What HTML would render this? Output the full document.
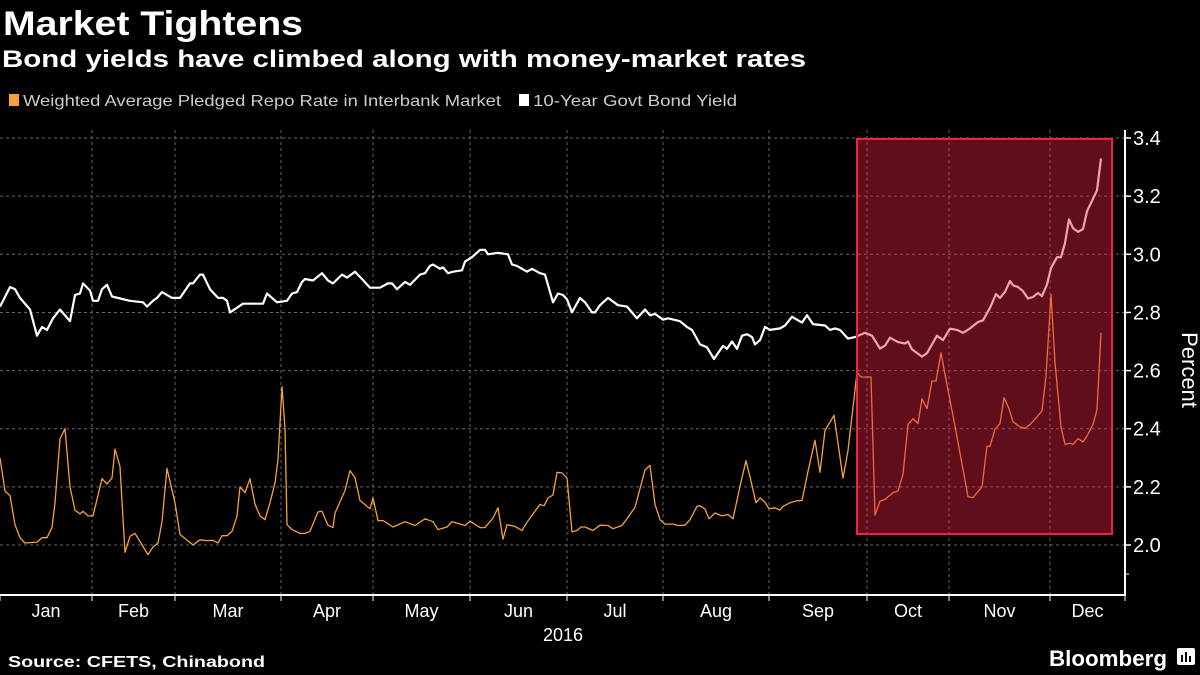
<!DOCTYPE html>
<html><head><meta charset="utf-8"><style>
html,body{margin:0;padding:0;background:#000;width:1200px;height:675px;overflow:hidden}
svg{display:block;font-family:"Liberation Sans",sans-serif}
</style></head><body>
<svg id="chart" width="1200" height="675" viewBox="0 0 1200 675">
<text x="3" y="35" fill="#fff" font-size="34" font-weight="bold" textLength="300" lengthAdjust="spacingAndGlyphs">Market Tightens</text>
<text x="2" y="67" fill="#fff" font-size="24" font-weight="bold" textLength="804" lengthAdjust="spacingAndGlyphs">Bond yields have climbed along with money-market rates</text>
<g>
<rect x="9" y="94" width="10" height="12" fill="#f7a13a"/>
<text x="23" y="106" fill="#ccc" font-size="16" textLength="478" lengthAdjust="spacingAndGlyphs">Weighted Average Pledged Repo Rate in Interbank Market</text>
<rect x="519" y="94" width="10" height="12" fill="#fff"/>
<text x="533" y="106" fill="#ccc" font-size="16" textLength="204" lengthAdjust="spacingAndGlyphs">10-Year Govt Bond Yield</text>
</g>
<g id="grid"></g>
<g id="axes"></g>
<g id="series"></g>
<rect x="857" y="139" width="255" height="395" fill="rgba(228,33,67,0.42)" stroke="#ee2244" stroke-width="2"/>
<text x="1188" y="370" fill="#fff" font-size="22" text-anchor="middle" transform="rotate(90 1188 370)" dominant-baseline="middle">Percent</text>
<text x="563" y="641" fill="#fff" font-size="18" text-anchor="middle">2016</text>
<text x="8" y="667" fill="#fff" font-size="16" font-weight="bold" textLength="257" lengthAdjust="spacingAndGlyphs">Source: CFETS, Chinabond</text>
<text x="1049" y="666" fill="#fff" font-size="22" font-weight="bold" textLength="118" lengthAdjust="spacingAndGlyphs">Bloomberg</text>
<g><rect x="1177" y="648" width="18" height="17" rx="2" fill="#fff"/><rect x="1181" y="655" width="2" height="7" fill="#000"/><rect x="1185" y="652" width="2" height="10" fill="#000"/><rect x="1189" y="656" width="2" height="6" fill="#000"/></g>
</svg>
<script>
// x-domain in trading-day units (0..225), y-domain percent
const monthLabels = ["Jan","Feb","Mar","Apr","May","Jun","Jul","Aug","Sep","Oct","Nov","Dec"];
const monthStartDays = [0,18.4,35,56.2,74.6,94,113.4,132.6,153.8,173.4,189.8,210,225];
const yTicks = [2.0,2.2,2.4,2.6,2.8,3.0,3.2,3.4];
const yTickLabels = ["2.0","2.2","2.4","2.6","2.8","3.0","3.2","3.4"];
const bondDays = [0,2,3,4,6,7.4,8.4,9.4,10.6,12,14,15,16,16.6,18,18.6,19.6,20.4,21.4,22.4,26,28.6,29.4,30.6,31.4,32.4,34.4,36,38,38.6,40,40.6,42,43.6,44.6,45.4,46,48.6,52.6,53.4,55.4,57.4,58.4,59.4,60.4,61,62.6,64.4,65.6,66.6,68.4,69.4,71,72.4,74,76,77.6,78.4,79.4,81,82,84,85,86,86.6,88,88.6,89.6,90.6,92.4,93,94.4,96,97,97.6,99.6,101.6,102.4,103.4,105.4,106.4,108,109,110.6,111.6,112.6,113.4,114.4,116,117,118.4,119,120,121.6,123.6,125.4,127.4,129,130,131,132.6,133.6,136,137.4,138.4,140,141.4,142.8,144.6,145.4,146.4,147.4,148.4,149.4,150.4,151,152,153,154,156,157,158.4,160.4,161.4,162.6,165,166,167,168,169.6,171,173,174.4,176,177,178,179.6,181,181.6,182.4,184.4,185.4,187.4,188.6,190,191.4,192.6,194,195.6,196.6,198,199.2,200,201,202,202.6,203.6,204.6,205.6,206.6,207.6,208.4,209.4,210.2,211.4,212.2,213,213.8,214.6,215.6,216.6,217.4,219.4,220.2];
const bondValues = [2.82,2.887,2.88,2.85,2.81,2.72,2.75,2.74,2.78,2.81,2.77,2.86,2.865,2.90,2.875,2.84,2.84,2.88,2.895,2.855,2.84,2.835,2.82,2.84,2.85,2.87,2.85,2.85,2.90,2.90,2.93,2.93,2.88,2.85,2.85,2.84,2.80,2.83,2.83,2.865,2.835,2.84,2.865,2.87,2.905,2.915,2.91,2.935,2.91,2.90,2.93,2.92,2.94,2.915,2.885,2.885,2.90,2.90,2.88,2.905,2.895,2.93,2.935,2.96,2.965,2.95,2.955,2.935,2.94,2.945,2.975,2.99,3.015,3.015,3.00,3.005,3.00,2.965,2.96,2.94,2.95,2.935,2.93,2.835,2.865,2.86,2.845,2.80,2.85,2.835,2.80,2.80,2.825,2.85,2.825,2.82,2.78,2.81,2.79,2.795,2.775,2.78,2.77,2.75,2.74,2.69,2.68,2.64,2.685,2.675,2.70,2.675,2.72,2.725,2.715,2.69,2.705,2.75,2.74,2.745,2.755,2.785,2.765,2.79,2.76,2.755,2.74,2.745,2.74,2.71,2.715,2.73,2.72,2.676,2.686,2.713,2.698,2.693,2.70,2.673,2.648,2.66,2.72,2.705,2.744,2.74,2.73,2.745,2.767,2.773,2.816,2.863,2.85,2.871,2.908,2.893,2.888,2.873,2.848,2.853,2.867,2.856,2.896,2.953,2.99,2.99,3.039,3.12,3.09,3.077,3.087,3.148,3.22,3.33];
const repoDays = [0,1,2,3,4,5,7.4,8.4,9.4,10.4,11,12,13,14,15,16,16.6,17.6,18.6,20.4,21.4,22.4,23,24,25,26,27,29.6,30.6,31.6,32.4,33.4,35,36,38.6,40,41.4,42.6,43.6,44.4,45.4,46.4,47.4,48,49,50,51,52,53,54,55,55.6,56.4,57,57.4,58.4,60,61,62,63.6,64.4,65.6,66.6,67,69,70,71,72,74,74.6,75.6,76.6,78.6,81,83,85,86.6,87.6,89.4,90.4,93,94,96,97,98.6,99.6,100.6,101.4,103,104.4,105.4,108,108.8,109.6,110.6,111.4,112.4,113.4,114.4,115.4,116.2,117,118.6,120,121.6,122.6,124.4,125.6,127,129,130,131,132,133,134.6,135.6,137,138,139.4,140,141,141.8,143,144.4,145.6,146.6,148,149.2,150.2,151.2,152,153,153.8,155,156,156.6,158,159.4,160.4,161.6,163,164,165,166.8,168.6,169.6,171.4,172.2,174.2,175,176,177,178.6,179.6,180.6,181.6,182.6,183.6,184.4,185.4,186.4,187.2,188.2,189,191,192.6,193.6,194.6,195.4,196.4,197.4,198,199,200,200.8,201.8,202.6,204,205,206,207.4,208.4,209.2,210.2,211,212.2,213,214,214.6,215.6,216.6,217.4,218.6,219.4,220.2];
const repoValues = [2.30,2.185,2.17,2.07,2.025,2.007,2.01,2.025,2.025,2.06,2.145,2.365,2.40,2.20,2.12,2.107,2.116,2.10,2.10,2.228,2.21,2.23,2.33,2.27,1.975,2.03,2.04,1.967,1.993,2.007,2.08,2.263,2.145,2.036,2.00,2.018,2.015,2.016,2.007,2.032,2.032,2.047,2.10,2.20,2.18,2.228,2.14,2.10,2.087,2.145,2.214,2.294,2.545,2.40,2.07,2.053,2.04,2.04,2.047,2.114,2.116,2.068,2.06,2.11,2.187,2.256,2.231,2.153,2.125,2.162,2.084,2.084,2.062,2.08,2.067,2.09,2.08,2.053,2.062,2.08,2.067,2.082,2.06,2.06,2.093,2.128,2.02,2.07,2.064,2.05,2.078,2.14,2.135,2.162,2.172,2.25,2.248,2.23,2.045,2.05,2.062,2.062,2.05,2.068,2.067,2.056,2.067,2.095,2.13,2.258,2.274,2.14,2.087,2.072,2.072,2.067,2.068,2.087,2.133,2.135,2.124,2.09,2.11,2.10,2.105,2.09,2.202,2.29,2.22,2.145,2.162,2.147,2.125,2.128,2.12,2.133,2.145,2.152,2.153,2.254,2.36,2.25,2.394,2.446,2.23,2.325,2.593,2.578,2.578,2.103,2.151,2.157,2.18,2.186,2.243,2.415,2.434,2.418,2.503,2.469,2.564,2.564,2.661,2.587,2.409,2.26,2.166,2.163,2.18,2.20,2.34,2.34,2.398,2.418,2.507,2.469,2.424,2.406,2.401,2.415,2.441,2.461,2.581,2.862,2.627,2.406,2.346,2.35,2.346,2.366,2.355,2.375,2.415,2.466,2.73];

const NS = "http://www.w3.org/2000/svg";
const plotL = 0, plotR = 1125, plotBottom = 595;
function xScale(d){ return plotL + d * (plotR - plotL) / 225; }
function yScale(v){ return 545 - (v - 2.0) * 290.7; }
function mk(tag, attrs, parent){ const e = document.createElementNS(NS, tag); for (const k in attrs) e.setAttribute(k, attrs[k]); parent.appendChild(e); return e; }

const grid = document.getElementById('grid');
const axes = document.getElementById('axes');
const series = document.getElementById('series');

yTicks.forEach((t, i) => {
  const y = yScale(t);
  const g = mk('line', {x1: plotL, x2: plotR, y1: y, y2: y, stroke: '#666', 'stroke-width': 1, 'stroke-dasharray': '3,3'}, grid);
  
  
  const tk = mk('line', {x1: plotR, x2: plotR + 6, y1: y, y2: y, stroke: '#fff', 'stroke-width': 1.5}, axes);
  
  
  const lb = mk('text', {x: plotR + 8, y: y + 7, fill: '#fff', 'font-size': 20}, axes);
  lb.textContent = yTickLabels[i];
  
  
});
[1.9].forEach(t => {
  const tk = mk('line', {x1: plotR, x2: plotR + 4, y1: yScale(t), y2: yScale(t), stroke: '#fff', 'stroke-width': 1}, axes);
  
  
});
monthStartDays.forEach((d, i) => {
  const x = xScale(d);
  if (i > 0 && i < monthStartDays.length - 1) {
    const g = mk('line', {x1: x, x2: x, y1: 130, y2: plotBottom, stroke: '#666', 'stroke-width': 1, 'stroke-dasharray': '3,3'}, grid);
    
    
  }
  const tk = mk('line', {x1: x, x2: x, y1: plotBottom, y2: plotBottom + 6, stroke: '#fff', 'stroke-width': 1}, axes);
  
  
  if (i < monthLabels.length) {
    const cx = (xScale(d) + xScale(monthStartDays[i + 1])) / 2;
    const lb = mk('text', {x: cx, y: 617, fill: '#fff', 'font-size': 18, 'text-anchor': 'middle'}, axes);
    lb.textContent = monthLabels[i];
    
    
  }
});
const xa = mk('line', {x1: plotL, x2: plotR + 1, y1: plotBottom, y2: plotBottom, stroke: '#fff', 'stroke-width': 2}, axes);


const ya = mk('line', {x1: plotR, x2: plotR, y1: 130, y2: plotBottom, stroke: '#fff', 'stroke-width': 2}, axes);



function pathFor(days, vals){ const n = Math.min(days.length, vals.length); let s = ''; for (let i = 0; i < n; i++) s += (i ? 'L' : 'M') + xScale(days[i]).toFixed(1) + ',' + yScale(vals[i]).toFixed(1); return s; }
const repo = mk('path', {d: pathFor(repoDays, repoValues), fill: 'none', stroke: '#f7a13a', 'stroke-width': 1.3, 'stroke-linejoin': 'round'}, series);


const bond = mk('path', {d: pathFor(bondDays, bondValues), fill: 'none', stroke: '#fff', 'stroke-width': 2.2, 'stroke-linejoin': 'round'}, series);


</script>
</body></html>
